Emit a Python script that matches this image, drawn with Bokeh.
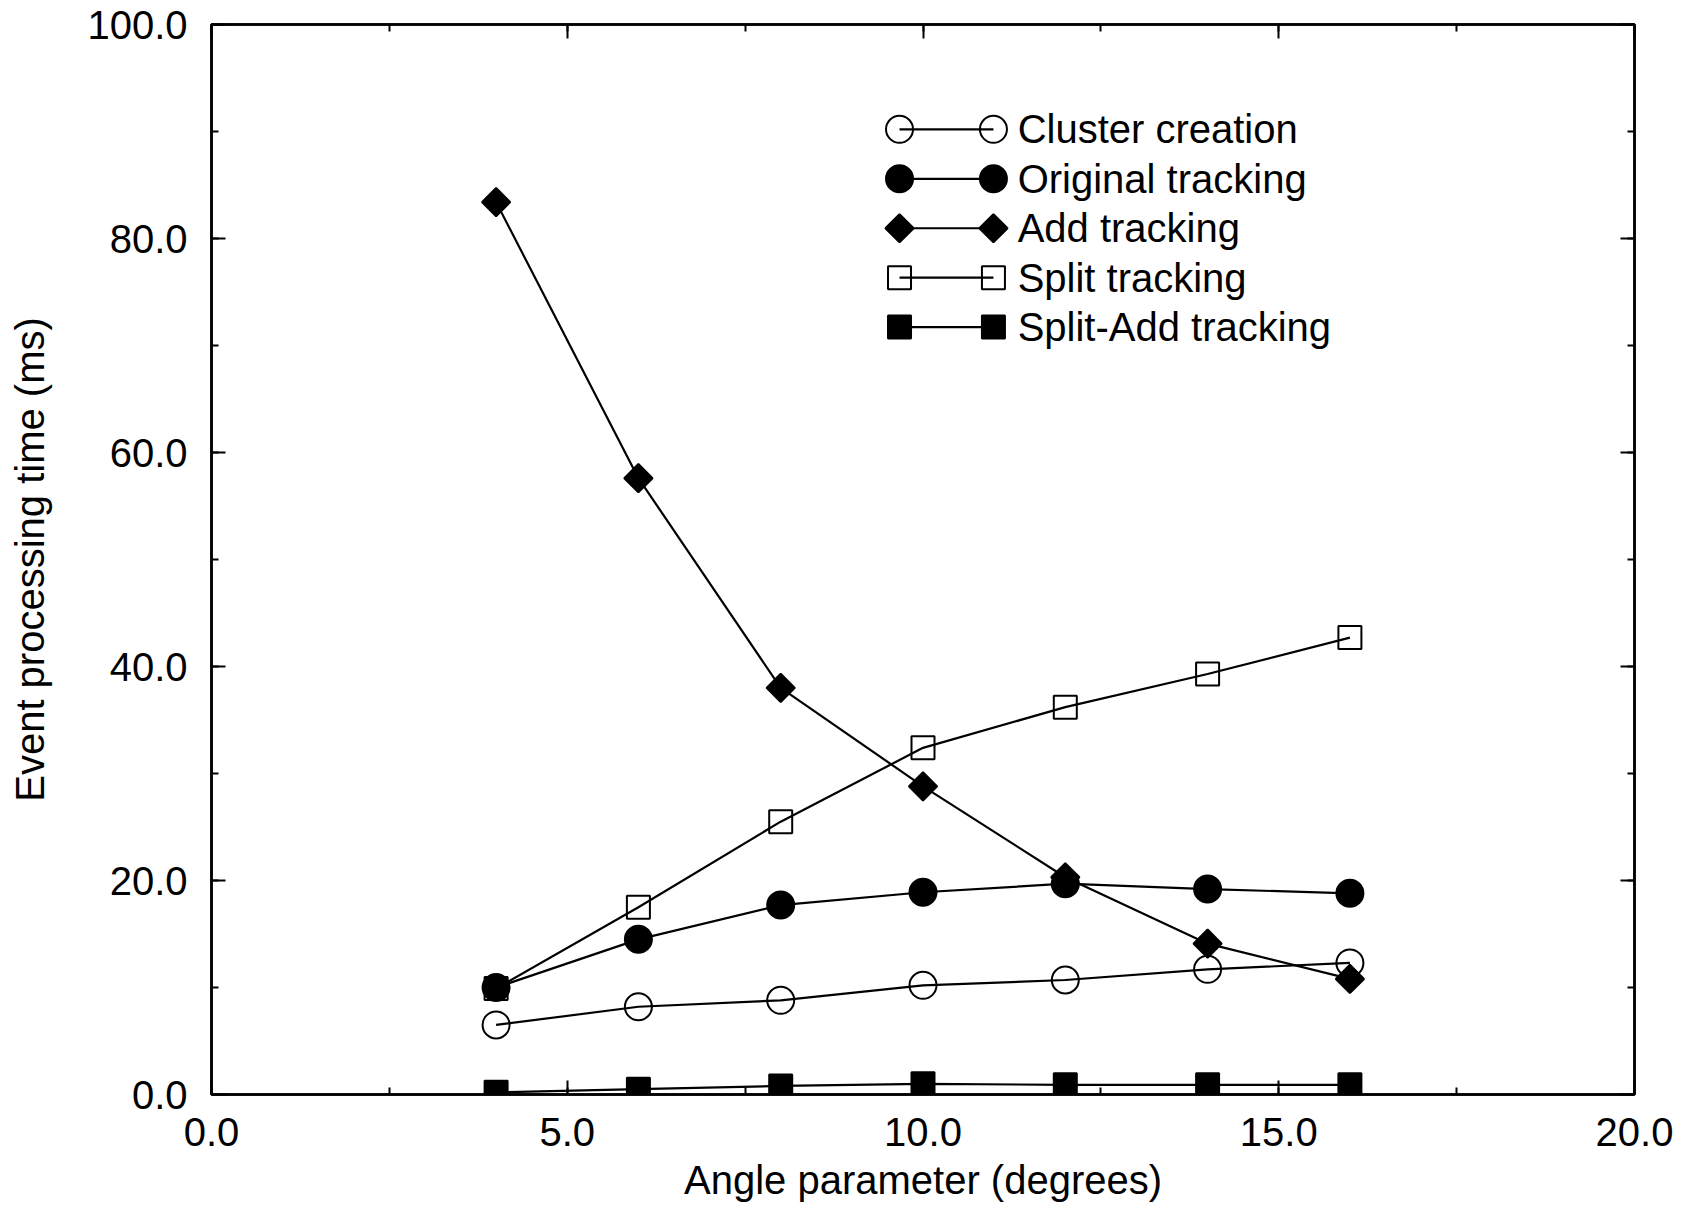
import math

from bokeh.core.properties import value
from bokeh.embed import file_html
from bokeh.models import (ColumnDataSource, CustomJSTickFormatter, LinearAxis,
                          PrintfTickFormatter, Range1d, SingleIntervalTicker)
from bokeh.plotting import figure
from bokeh.resources import INLINE

# Angle parameter (degrees) and event processing time (ms) per method
angle = [4, 6, 8, 10, 12, 14, 16]
cluster_creation = [6.5, 8.2, 8.8, 10.2, 10.7, 11.7, 12.3]
original_tracking = [10.0, 14.5, 17.7, 18.9, 19.7, 19.2, 18.8]
add_tracking = [83.4, 57.6, 38.0, 28.8, 20.3, 14.1, 10.8]
split_tracking = [9.9, 17.5, 25.5, 32.4, 36.2, 39.3, 42.7]
split_add_tracking = [0.2, 0.5, 0.8, 1.0, 0.9, 0.9, 0.9]

series_names = ["Cluster creation", "Original tracking", "Add tracking",
                "Split tracking", "Split-Add tracking"]
series_values = [cluster_creation, original_tracking, add_tracking,
                 split_tracking, split_add_tracking]

x_label = "Angle parameter (degrees)"
y_label = "Event processing time (ms)"

FONT = "Liberation Sans"
FONT_SIZE = "40px"
INK = "black"

# marker styles: (marker, filled, size, rotation)
styles = [
    ("circle", False, 27, 0.0),
    ("circle", True, 27, 0.0),
    ("square", True, 20, math.pi / 4),
    ("square", False, 23, 0.0),
    ("square", True, 23, 0.0),
]

p = figure(width=1683, height=1211, output_backend="svg", toolbar_location=None,
           x_range=Range1d(0, 20), y_range=Range1d(0, 100),
           x_axis_type=None, y_axis_type=None,
           min_border_left=211, min_border_right=49,
           min_border_top=24, min_border_bottom=117)
p.background_fill_color = "white"
p.border_fill_color = "white"
p.outline_line_color = INK
p.outline_line_width = 2.5
p.xgrid.visible = False
p.ygrid.visible = False

xticker = SingleIntervalTicker(interval=5, num_minor_ticks=2)
yticker = SingleIntervalTicker(interval=20, num_minor_ticks=2)
blank = CustomJSTickFormatter(code="return ''")


def style_axis(ax, labelled):
    ax.axis_line_color = INK
    ax.axis_line_width = 2.5
    ax.major_tick_line_color = INK
    ax.major_tick_line_width = 2
    ax.minor_tick_line_color = INK
    ax.minor_tick_line_width = 2
    ax.major_tick_in = 14
    ax.major_tick_out = 0
    ax.minor_tick_in = 7
    ax.minor_tick_out = 0
    ax.major_label_text_font = FONT
    ax.major_label_text_font_size = FONT_SIZE
    ax.major_label_text_color = INK
    ax.axis_label_text_font = FONT
    ax.axis_label_text_font_size = FONT_SIZE
    ax.axis_label_text_font_style = "normal"
    ax.axis_label_text_color = INK
    if not labelled:
        ax.formatter = blank
        ax.major_label_standoff = 0


xaxis = LinearAxis(ticker=xticker, formatter=PrintfTickFormatter(format="%.1f"),
                   axis_label=x_label)
style_axis(xaxis, True)
xaxis.major_label_standoff = 23
xaxis.axis_label_standoff = 9
p.add_layout(xaxis, "below")

yaxis = LinearAxis(ticker=yticker, formatter=PrintfTickFormatter(format="%.1f"),
                   axis_label=y_label)
style_axis(yaxis, True)
yaxis.major_label_standoff = 24
yaxis.axis_label_standoff = 32
p.add_layout(yaxis, "left")

top_axis = LinearAxis(ticker=xticker)
style_axis(top_axis, False)
p.add_layout(top_axis, "above")

right_axis = LinearAxis(ticker=yticker)
style_axis(right_axis, False)
p.add_layout(right_axis, "right")


def draw_markers(src, marker, filled, size, rot):
    p.scatter("x", "y", source=src, marker=marker, size=size, angle=rot,
              line_color=INK, line_width=2,
              fill_color=INK if filled else None,
              fill_alpha=1.0 if filled else 0.0)


# data series
for vals, (marker, filled, size, rot) in zip(series_values, styles):
    src = ColumnDataSource(dict(x=angle, y=vals))
    p.line("x", "y", source=src, line_color=INK, line_width=2.2)
    draw_markers(src, marker, filled, size, rot)

# key: a short sample line with a marker at each end, then the series name
key_x0, key_x1, key_text_x = 9.67, 10.99, 11.33
key_top, key_step = 90.2, 4.62
for i, (name, (marker, filled, size, rot)) in enumerate(zip(series_names, styles)):
    ky = key_top - i * key_step
    ksrc = ColumnDataSource(dict(x=[key_x0, key_x1], y=[ky, ky]))
    p.line("x", "y", source=ksrc, line_color=INK, line_width=2.2)
    draw_markers(ksrc, marker, filled, size, rot)
    p.text(x=[key_text_x], y=[ky], text=[name], text_font=value(FONT),
           text_font_size=value(FONT_SIZE), text_color=INK,
           text_baseline="middle", text_align="left")

open("out.html", "w").write(file_html(p, INLINE))
